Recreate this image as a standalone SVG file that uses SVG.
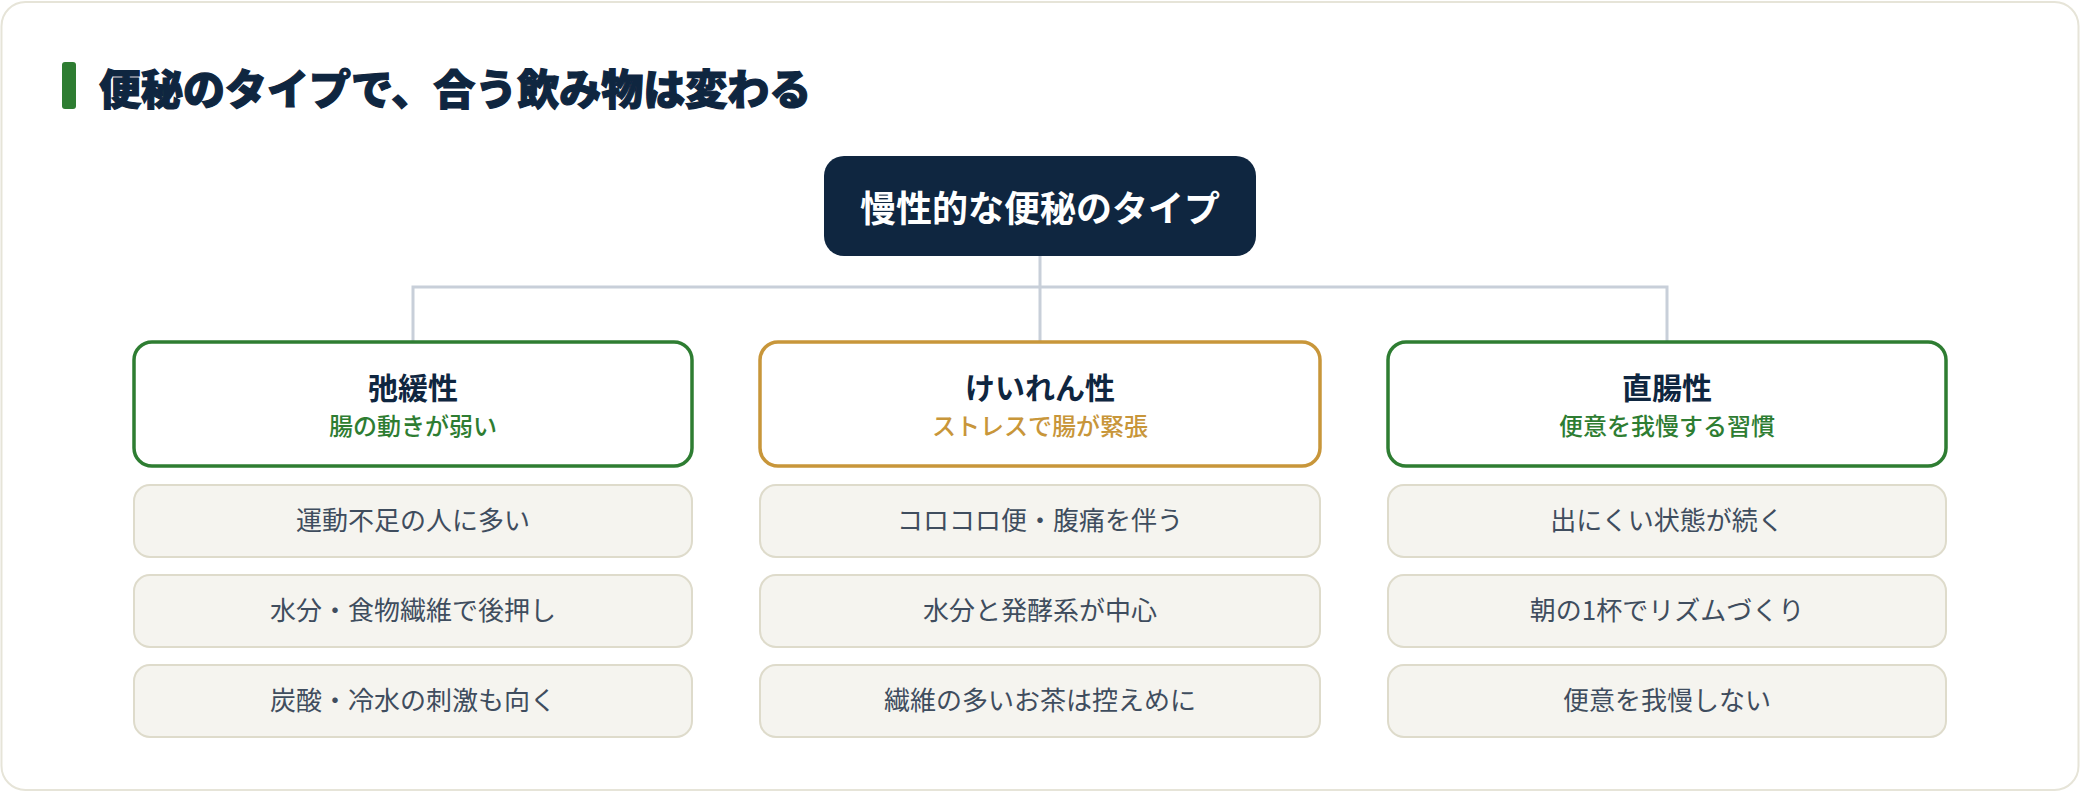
<svg xmlns="http://www.w3.org/2000/svg" width="2080" height="792" viewBox="0 0 2080 792">
  <style>
    text { font-family: "Noto Sans CJK JP", "Noto Sans", sans-serif; text-anchor: middle; }
    .title { font-size: 42px; font-weight: 900; fill: #0f2640; stroke: #0f2640; stroke-width: 1.2; text-anchor: start; }
    .root-box { fill: #0f2640; }
    .root-text { font-size: 36px; font-weight: 700; fill: #ffffff; }
    .type-box { fill: #ffffff; stroke-width: 3.5; }
    .green { stroke: #2e7d32; }
    .gold { stroke: #c8963a; }
    .type-title { font-size: 30px; font-weight: 700; fill: #0f2640; }
    .sub-green { font-size: 24px; font-weight: 500; fill: #2e7d32; }
    .sub-gold { font-size: 24px; font-weight: 500; fill: #c8963a; }
    .item-box { fill: #f5f4ef; stroke: #dedbcb; stroke-width: 2; }
    .item-text { font-size: 26px; font-weight: 400; fill: #3f4d5e; }
    .conn { fill: none; stroke: #c8cfd9; stroke-width: 3; }
  </style>
  <rect x="1.5" y="2" width="2077" height="788" rx="24" fill="#ffffff" stroke="#e6e4d8" stroke-width="2"/>
  <g id="heading">
    <rect x="62" y="62" width="14" height="47" rx="3" fill="#2e7d32"/>
    <text class="title" x="99" y="105">便秘のタイプで、合う飲み物は変わる</text>
  </g>
  <g id="connectors">
    <path class="conn" d="M1040 256 V287 M413 341 V287 H1667 V341 M1040 287 V341"/>
  </g>
  <g id="root">
    <rect class="root-box" x="824" y="156" width="432" height="100" rx="20"/>
    <text class="root-text" x="1040" y="222">慢性的な便秘のタイプ</text>
  </g>
  <g id="type-chikan">
    <rect class="type-box green" x="134" y="342" width="558" height="124" rx="18"/>
    <text class="type-title" x="413" y="399">弛緩性</text>
    <text class="sub-green" x="413" y="435">腸の動きが弱い</text>
  </g>
  <g id="type-keiren">
    <rect class="type-box gold" x="760" y="342" width="560" height="124" rx="18"/>
    <text class="type-title" x="1040" y="399">けいれん性</text>
    <text class="sub-gold" x="1040" y="435">ストレスで腸が緊張</text>
  </g>
  <g id="type-chokucho">
    <rect class="type-box green" x="1388" y="342" width="558" height="124" rx="18"/>
    <text class="type-title" x="1667" y="399">直腸性</text>
    <text class="sub-green" x="1667" y="435">便意を我慢する習慣</text>
  </g>
  <g id="item-1-1">
    <rect class="item-box" x="134" y="485" width="558" height="72" rx="16"/>
    <text class="item-text" x="413" y="530">運動不足の人に多い</text>
  </g>
  <g id="item-1-2">
    <rect class="item-box" x="134" y="575" width="558" height="72" rx="16"/>
    <text class="item-text" x="413" y="620">水分・食物繊維で後押し</text>
  </g>
  <g id="item-1-3">
    <rect class="item-box" x="134" y="665" width="558" height="72" rx="16"/>
    <text class="item-text" x="413" y="710">炭酸・冷水の刺激も向く</text>
  </g>
  <g id="item-2-1">
    <rect class="item-box" x="760" y="485" width="560" height="72" rx="16"/>
    <text class="item-text" x="1040" y="530">コロコロ便・腹痛を伴う</text>
  </g>
  <g id="item-2-2">
    <rect class="item-box" x="760" y="575" width="560" height="72" rx="16"/>
    <text class="item-text" x="1040" y="620">水分と発酵系が中心</text>
  </g>
  <g id="item-2-3">
    <rect class="item-box" x="760" y="665" width="560" height="72" rx="16"/>
    <text class="item-text" x="1040" y="710">繊維の多いお茶は控えめに</text>
  </g>
  <g id="item-3-1">
    <rect class="item-box" x="1388" y="485" width="558" height="72" rx="16"/>
    <text class="item-text" x="1667" y="530">出にくい状態が続く</text>
  </g>
  <g id="item-3-2">
    <rect class="item-box" x="1388" y="575" width="558" height="72" rx="16"/>
    <text class="item-text" x="1667" y="620">朝の1杯でリズムづくり</text>
  </g>
  <g id="item-3-3">
    <rect class="item-box" x="1388" y="665" width="558" height="72" rx="16"/>
    <text class="item-text" x="1667" y="710">便意を我慢しない</text>
  </g>
</svg>
